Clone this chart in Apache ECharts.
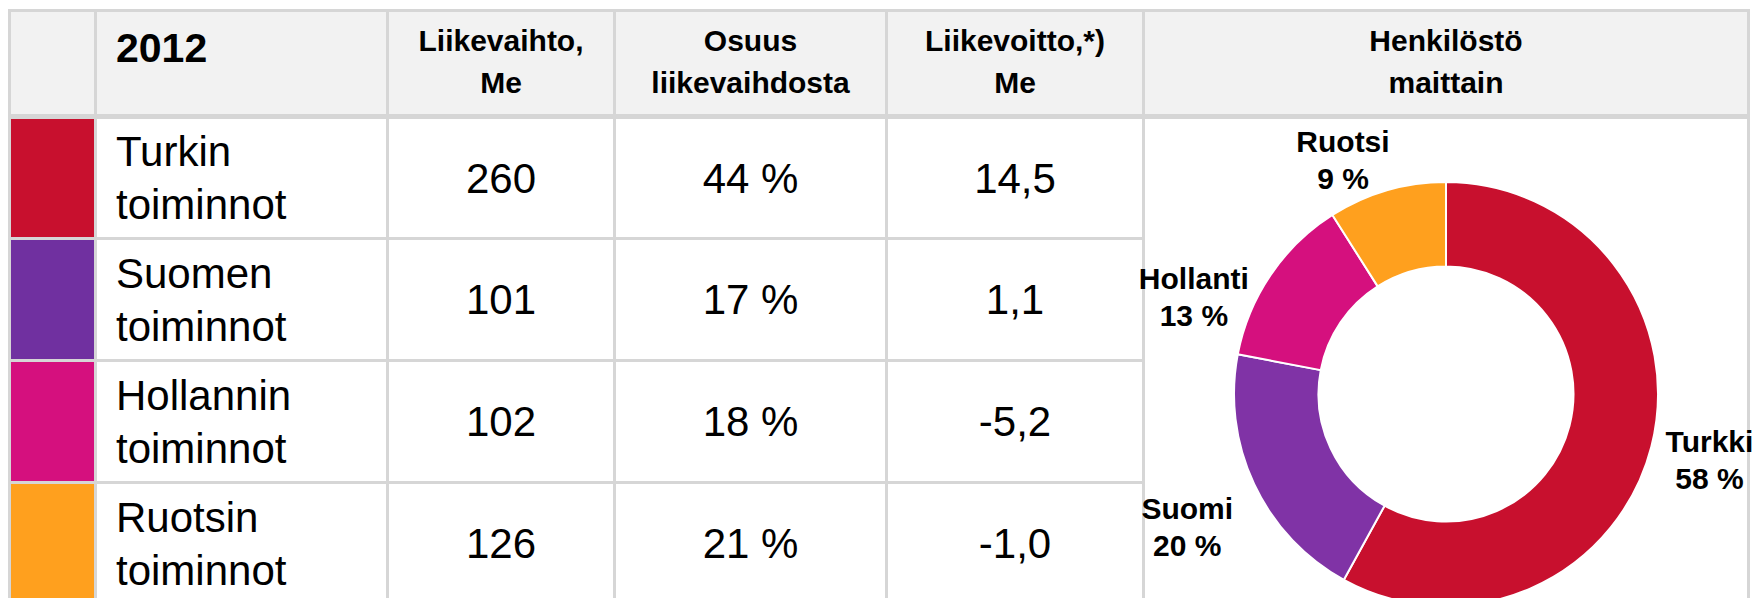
<!DOCTYPE html>
<html>
<head>
<meta charset="utf-8">
<script src="https://cdn.jsdelivr.net/npm/echarts@6/dist/echarts.min.js"></script>
<style>
  html, body { margin: 0; padding: 0; background: #ffffff; }
  #chart { width: 1760px; height: 598px; }
</style>
</head>
<body>
<div id="chart"></div>
<script>
// ---------------- data ----------------
const yearLabel = '2012';
const headerLabels = ['Liikevaihto,\nMe', 'Osuus\nliikevaihdosta', 'Liikevoitto,*)\nMe', 'Henkilöstö\nmaittain'];
const segmentNames = ['Turkin\ntoiminnot', 'Suomen\ntoiminnot', 'Hollannin\ntoiminnot', 'Ruotsin\ntoiminnot'];
const liikevaihto = [260, 101, 102, 126];
const osuusPct = [44, 17, 18, 21];
const liikevoitto = [14.5, 1.1, -5.2, -1.0];
const countryNames = ['Turkki', 'Suomi', 'Hollanti', 'Ruotsi'];
const staffPct = [58, 20, 13, 9];

// ---------------- styles / layout ----------------
const segmentColors = ['#c8102e', '#7030a0', '#d5107e', '#ffa01e'];
const countryColors = ['#c8102e', '#8033a6', '#d5107e', '#ffa01e'];
const FONT = '"Liberation Sans", Arial, Helvetica, sans-serif';
const LINE_COLOR = '#d6d6d6';
const HEAD_FILL = '#f2f2f2';
const LW = 3;
const colLines = [8, 94, 386, 613, 885, 1142, 1747];   // left edge of each vertical rule
const headTop = 12, headBottom = 114;
const rowTops = [119, 240, 362, 484];
const rowBottoms = [237, 359, 481, 603];
const pieCenter = [1446, 394];
const pieRadius = [127.5, 212];
const labelGap = [60, 74, 59, 39];
const labelNudge = [[0, -2], [0, 11], [-28, 55], [-33, 7]];

const fmtComma = v => v.toFixed(1).replace('.', ',');

const els = [];
// table background (acts as grid lines)
els.push({ type: 'rect', shape: { x: colLines[0], y: 9, width: colLines[6] + LW - colLines[0], height: 600 }, style: { fill: LINE_COLOR }, silent: true });
// header cells
for (let c = 0; c < 6; c++) {
  const x0 = colLines[c] + LW, x1 = colLines[c + 1];
  els.push({ type: 'rect', shape: { x: x0, y: headTop, width: x1 - x0, height: headBottom - headTop }, style: { fill: HEAD_FILL }, silent: true });
}
// body cells
for (let r = 0; r < segmentNames.length; r++) {
  for (let c = 0; c < 5; c++) {
    const x0 = colLines[c] + LW, x1 = colLines[c + 1];
    els.push({ type: 'rect', shape: { x: x0, y: rowTops[r], width: x1 - x0, height: rowBottoms[r] - rowTops[r] },
      style: { fill: c === 0 ? segmentColors[r] : '#ffffff' }, silent: true });
  }
}
// merged pie cell
els.push({ type: 'rect', shape: { x: colLines[5] + LW, y: rowTops[0], width: colLines[6] - colLines[5] - LW, height: 600 }, style: { fill: '#ffffff' }, silent: true });

const colCenter = c => (colLines[c] + LW + colLines[c + 1]) / 2;

// header texts
els.push({ type: 'text', x: 116, y: 48, style: { text: yearLabel, font: 'bold 41px ' + FONT, fill: '#000', align: 'left', verticalAlign: 'middle' }, silent: true });
headerLabels.forEach((t, i) => {
  els.push({ type: 'text', x: colCenter(i + 2), y: 61, style: { text: t, font: 'bold 30px ' + FONT, lineHeight: 42, fill: '#000', align: 'center', verticalAlign: 'middle' }, silent: true });
});
// body texts
segmentNames.forEach((t, r) => {
  const cy = (rowTops[r] + rowBottoms[r]) / 2;
  els.push({ type: 'text', x: 116, y: cy, style: { text: t, font: '42px ' + FONT, lineHeight: 53, fill: '#000', align: 'left', verticalAlign: 'middle' }, silent: true });
  const vals = [String(liikevaihto[r]), osuusPct[r] + ' %', fmtComma(liikevoitto[r])];
  vals.forEach((v, k) => {
    els.push({ type: 'text', x: colCenter(k + 2), y: cy, style: { text: v, font: '42px ' + FONT, fill: '#000', align: 'center', verticalAlign: 'middle' }, silent: true });
  });
});

const chart = echarts.init(document.getElementById('chart'), null, { renderer: 'svg', width: 1760, height: 598 });
chart.setOption({
  animation: false,
  backgroundColor: '#ffffff',
  graphic: { elements: els },
  series: [{
    type: 'pie',
    z: 10,
    center: pieCenter,
    radius: pieRadius,
    startAngle: 90,
    clockwise: true,
    avoidLabelOverlap: false,
    silent: true,
    itemStyle: { borderColor: '#ffffff', borderWidth: 2 },
    label: {
      show: true,
      position: 'outside',
      formatter: p => p.name + '\n' + p.value + ' %',
      fontFamily: FONT,
      fontWeight: 'bold',
      fontSize: 30,
      lineHeight: 37,
      color: '#000',
      distanceToLabelLine: 0
    },
    labelLine: { show: false, length: 50, length2: 0 },
    labelLayout: p => ({ align: 'center', verticalAlign: 'middle', dx: labelNudge[p.dataIndex][0], dy: labelNudge[p.dataIndex][1] }),
    data: countryNames.map((n, i) => ({
      name: n,
      value: staffPct[i],
      itemStyle: { color: countryColors[i] },
      labelLine: { show: false, length: labelGap[i], length2: 0 }
    }))
  }]
});
</script>
</body>
</html>
